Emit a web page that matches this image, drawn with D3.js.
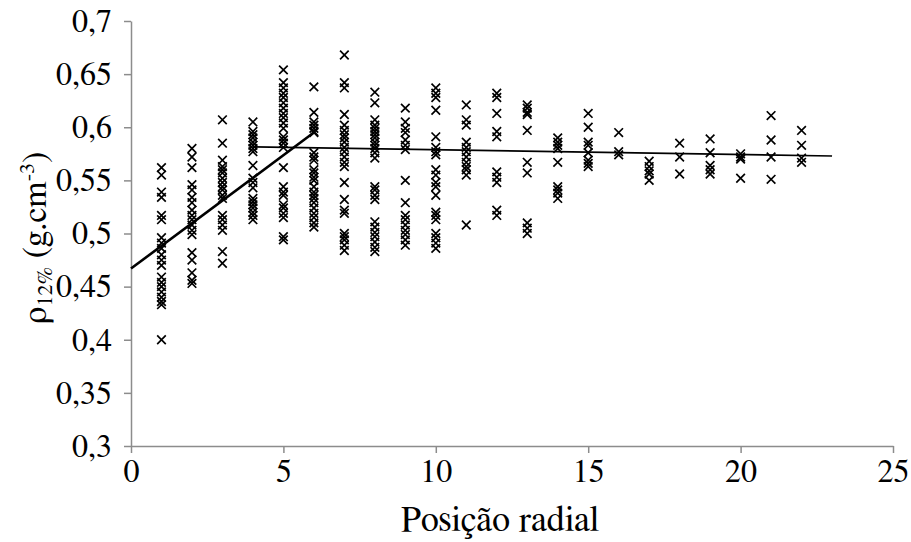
<!DOCTYPE html>
<html>
<head>
<meta charset="utf-8">
<script src="https://cdn.jsdelivr.net/npm/d3@7"></script>
<style>
  html, body { margin: 0; padding: 0; background: #fff; }
  svg { display: block; }
  svg text { font-family: FreeSerif, "Liberation Serif", serif !important; fill: #000; }
</style>
</head>
<body>
<svg id="chart" width="911" height="542"></svg>
<script>
// ---- data ----
const positions = [1,2,3,4,5,6,7,8,9,10,11,12,13,14,15,16,17,18,19,20,21,22];
const densities = [
  [0.562,0.555,0.539,0.534,0.517,0.513,0.496,0.491,0.486,0.480,0.475,0.470,0.459,0.454,0.450,0.445,0.440,0.436,0.433,0.400],
  [0.580,0.572,0.562,0.546,0.541,0.534,0.529,0.522,0.517,0.513,0.508,0.503,0.499,0.482,0.475,0.463,0.456,0.453],
  [0.607,0.585,0.569,0.563,0.560,0.557,0.552,0.548,0.544,0.541,0.536,0.533,0.517,0.513,0.508,0.503,0.483,0.472],
  [0.605,0.596,0.593,0.590,0.586,0.583,0.580,0.577,0.564,0.552,0.548,0.543,0.533,0.530,0.527,0.524,0.520,0.517,0.513],
  [0.654,0.642,0.637,0.632,0.628,0.623,0.618,0.613,0.609,0.604,0.599,0.591,0.588,0.585,0.581,0.562,0.544,0.539,0.536,0.527,0.524,0.519,0.515,0.497,0.494],
  [0.638,0.614,0.605,0.602,0.599,0.596,0.595,0.576,0.572,0.569,0.560,0.557,0.553,0.550,0.544,0.539,0.536,0.533,0.529,0.524,0.519,0.515,0.510,0.506],
  [0.668,0.642,0.637,0.612,0.602,0.597,0.593,0.590,0.586,0.581,0.577,0.572,0.567,0.563,0.548,0.532,0.522,0.519,0.500,0.497,0.494,0.489,0.484],
  [0.633,0.623,0.607,0.602,0.599,0.596,0.593,0.590,0.586,0.583,0.580,0.576,0.571,0.544,0.541,0.536,0.532,0.511,0.506,0.501,0.497,0.492,0.487,0.483],
  [0.618,0.605,0.599,0.595,0.588,0.583,0.579,0.550,0.529,0.517,0.513,0.508,0.503,0.499,0.494,0.489],
  [0.637,0.632,0.628,0.616,0.591,0.581,0.577,0.574,0.560,0.555,0.548,0.544,0.536,0.520,0.517,0.513,0.500,0.496,0.491,0.486],
  [0.621,0.607,0.602,0.586,0.581,0.577,0.572,0.567,0.563,0.560,0.555,0.508],
  [0.632,0.628,0.613,0.596,0.591,0.558,0.553,0.548,0.522,0.517],
  [0.621,0.618,0.614,0.612,0.597,0.567,0.557,0.510,0.505,0.500],
  [0.590,0.586,0.583,0.580,0.567,0.544,0.541,0.538,0.533],
  [0.613,0.600,0.586,0.583,0.576,0.569,0.566,0.563],
  [0.595,0.577,0.574],
  [0.568,0.563,0.559,0.556,0.550],
  [0.585,0.572,0.556],
  [0.589,0.576,0.564,0.560,0.556],
  [0.575,0.572,0.570,0.552],
  [0.611,0.588,0.572,0.551],
  [0.597,0.583,0.571,0.567]
];
const trend1X = [0, 6];
const trend1Y = [0.467, 0.595];
const trend2X = [4, 23];
const trend2Y = [0.5815, 0.573];
const xTicks = [0,5,10,15,20,25];
const yTicks = [0.3,0.35,0.4,0.45,0.5,0.55,0.6,0.65,0.7];

// ---- layout ----
const svg = d3.select("#chart");
const mLeft = 131, mRight = 893, mTop = 21, mBottom = 446;
const x = d3.scaleLinear().domain([0,25]).range([mLeft,mRight]);
const y = d3.scaleLinear().domain([0.3,0.7]).range([mBottom,mTop]);
const axisColor = "#8c8c8c";
const fmt = d => String(+d.toFixed(2)).replace(".", ",");
const fs = 32, tfs = 36, yfs = 34, sfs = 22;

// axes
const gx = svg.append("g").attr("transform", `translate(0,${mBottom})`)
  .call(d3.axisBottom(x).tickValues(xTicks).tickSize(7).tickSizeOuter(0).tickPadding(6).tickFormat(d => d));
const gy = svg.append("g").attr("transform", `translate(${mLeft},0)`)
  .call(d3.axisLeft(y).tickValues(yTicks).tickSize(7).tickSizeOuter(0).tickPadding(12).tickFormat(fmt));
[gx, gy].forEach(g => {
  g.attr("font-family", null).attr("font-size", fs);
  g.select(".domain").attr("stroke", axisColor).attr("stroke-width", 1.5);
  g.selectAll(".tick line").attr("stroke", axisColor).attr("stroke-width", 1.5);
  g.selectAll(".tick text").style("font-size", fs + "px").attr("fill", "#000");
});

// points
const pts = [];
positions.forEach((p, i) => densities[i].forEach(v => pts.push([p, v])));
const s = 4.3;
svg.append("g").selectAll("path").data(pts).join("path")
  .attr("d", d => {
    const cx = x(d[0]), cy = y(d[1]);
    return `M${cx-s},${cy-s}L${cx+s},${cy+s}M${cx-s},${cy+s}L${cx+s},${cy-s}`;
  })
  .attr("stroke", "#000").attr("stroke-width", 1.7).attr("fill", "none");

// trend lines
const line = d3.line().x(d => x(d[0])).y(d => y(d[1]));
svg.append("path").datum(trend1X.map((v,i)=>[v,trend1Y[i]])).attr("d", line)
  .attr("stroke", "#000").attr("stroke-width", 2.6).attr("fill", "none");
svg.append("path").datum(trend2X.map((v,i)=>[v,trend2Y[i]])).attr("d", line)
  .attr("stroke", "#000").attr("stroke-width", 1.6).attr("fill", "none");

// axis titles
svg.append("text").attr("x", 500).attr("y", 531)
  .attr("text-anchor", "middle").style("font-size", tfs + "px").text("Posição radial");

const yt = svg.append("text")
  .attr("transform", `translate(46,238) rotate(-90)`)
  .attr("text-anchor", "middle").style("font-size", yfs + "px");
yt.append("tspan").text("ρ");
yt.append("tspan").style("font-size", sfs + "px").attr("dy", 6).text("12%");
yt.append("tspan").attr("dy", -6).text(" (g.cm");
yt.append("tspan").style("font-size", sfs + "px").attr("dy", -12).text("-3");
yt.append("tspan").attr("dy", 12).text(")");
</script>
</body>
</html>
